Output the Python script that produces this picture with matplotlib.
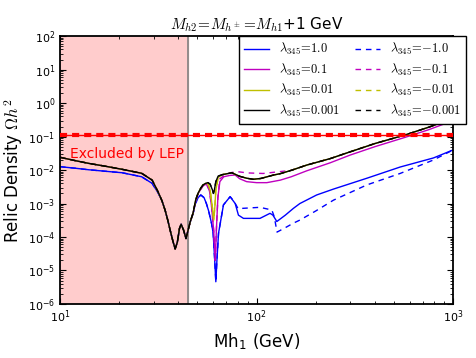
import matplotlib
matplotlib.use('Agg')
import matplotlib.pyplot as plt
import numpy as np
from matplotlib.ticker import LogLocator, NullFormatter

plt.rcParams['mathtext.fontset'] = 'cm'
plt.rcParams['font.family'] = 'DejaVu Sans'

# low mass part, shared by the small couplings
m_low = [10, 12, 14, 17, 20.7, 26, 29.4, 31.5, 33, 34.2, 35.3, 36.3, 37.5, 38.5,
         39.5, 40.5, 41.3, 42.5, 43.7, 45.9]
om_low_small = [0.024, 0.019, 0.0158, 0.013, 0.0105, 0.0080, 0.0050, 0.00224, 0.0012,
                6.4e-4, 3.2e-4, 1.6e-4, 7.5e-5, 4.4e-5, 7e-5, 1.8e-4, 2.4e-4, 1.6e-4,
                9e-5, 2.8e-4]
om_low_large = [0.0126, 0.0113, 0.0102, 0.0092, 0.0083, 0.0063, 0.0040, 0.0021, 0.0012,
                6.4e-4, 3.2e-4, 1.6e-4, 7.5e-5, 4.4e-5, 7e-5, 1.8e-4, 2.4e-4, 1.6e-4,
                9e-5, 2.8e-4]

# high mass part, shared tail
m_tail = [132, 150, 180, 237, 299, 400, 570, 750, 1000]
om_tail_small = [7.8e-3, 9.8e-3, 0.0141, 0.022, 0.035, 0.062, 0.112, 0.19, 0.35]
om_tail_01 = [5.0e-3, 6.3e-3, 9.5e-3, 0.0165, 0.028, 0.050, 0.095, 0.16, 0.30]

# resonance region per coupling
m_mid_0001 = [47.5, 49, 50.4, 52, 53.4, 55, 56.5, 58, 59.5, 60.3, 61, 62, 63.7, 67, 71,
              74.8, 78, 82, 89, 96, 105, 122]
om_mid_0001 = [5.2e-4, 1.3e-3, 2.05e-3, 2.9e-3, 3.6e-3, 4.0e-3, 4.2e-3, 3.8e-3, 2.6e-3,
               2.0e-3, 2.6e-3, 4.5e-3, 6.6e-3, 7.3e-3, 7.8e-3, 8.3e-3, 7.4e-3, 6.5e-3,
               5.7e-3, 5.3e-3, 5.6e-3, 7.1e-3]

m_mid_001 = [47.5, 49, 50.4, 52, 53.4, 55, 56.5, 58, 59.5, 60.5, 61.3, 62, 63.7, 67, 71,
             74.8, 78, 82, 89, 96, 105, 122]
om_mid_001 = [5.2e-4, 1.3e-3, 2.05e-3, 2.9e-3, 3.6e-3, 4.0e-3, 4.0e-3, 2.5e-3, 8e-4,
              3.2e-4, 8e-4, 2.5e-3, 6.0e-3, 7.3e-3, 7.8e-3, 8.3e-3, 7.4e-3, 6.5e-3,
              5.7e-3, 5.3e-3, 5.6e-3, 7.1e-3]

m_mid_01 = [47.5, 49, 50.4, 53.4, 55.5, 57.5, 59, 60.5, 61.6, 62.5, 63.5, 65, 68, 73,
            77.8, 82, 89, 100, 112.7]
om_mid_01 = [5.2e-4, 1.2e-3, 2.0e-3, 3.4e-3, 3.8e-3, 2.5e-3, 8e-4, 1.5e-4, 2.0e-5, 2e-4,
             1.5e-3, 4.5e-3, 6.3e-3, 6.9e-3, 7.1e-3, 5.5e-3, 4.5e-3, 4.2e-3, 4.2e-3]
m_mid_m01 = [47.5, 49, 50.4, 53.4, 55.5, 57.5, 59, 60.5, 61.6, 62.5, 63.5, 65, 70, 75,
             80.5, 90, 108]
om_mid_m01 = [5.2e-4, 1.2e-3, 2.0e-3, 3.4e-3, 3.8e-3, 2.5e-3, 8e-4, 1.5e-4, 2.0e-5, 2e-4,
              1.5e-3, 5.5e-3, 7.5e-3, 8.5e-3, 8.9e-3, 8.2e-3, 7.9e-3]

m_mid_1 = [47.5, 48.8, 50.4, 52, 54, 55.5, 57, 59, 60.1, 61.2, 62.0, 62.8, 64.0, 67.8,
           73.3, 77.8, 80.8, 85.7, 104, 117, 121, 126.7, 140, 154, 166, 202, 246, 364,
           537, 794, 1000]
om_mid_1 = [5.0e-4, 1.0e-3, 1.5e-3, 1.8e-3, 1.5e-3, 1.0e-3, 6e-4, 2.5e-4, 1.3e-4, 2e-5,
            4.6e-6, 2e-5, 1.3e-4, 9.1e-4, 1.6e-3, 1.0e-3, 4.5e-4, 3.6e-4, 3.6e-4, 5.1e-4,
            4.5e-4, 2.9e-4, 4.5e-4, 7.2e-4, 1.0e-3, 1.8e-3, 2.7e-3, 5.7e-3, 0.0123,
            0.023, 0.040]
m_mid_m1 = [47.5, 48.8, 50.4, 52, 54, 55.5, 57, 59, 60.1, 61.2, 62.0, 62.8, 64.0, 67.8,
            73.3, 76.5, 80.5, 85.7, 104, 119.5, 123, 127, 140, 154, 166, 200, 246, 364,
            537, 794, 1000]
om_mid_m1 = [5.0e-4, 1.0e-3, 1.5e-3, 1.8e-3, 1.5e-3, 1.0e-3, 6e-4, 2.5e-4, 1.3e-4, 2e-5,
             4.6e-6, 2e-5, 1.3e-4, 9.1e-4, 1.6e-3, 1.2e-3, 7e-4, 7.2e-4, 7.7e-4, 6.4e-4,
             4e-4, 1.4e-4, 1.9e-4, 2.6e-4, 3.2e-4, 6e-4, 1.26e-3, 3.6e-3, 7.9e-3,
             0.020, 0.040]

omega_obs = 0.112
lep_limit = 45.0

# assemble the eight curves
def curve(m_a, o_a, m_b, o_b, m_c=None, o_c=None):
    m = list(m_a) + list(m_b) + (list(m_c) if m_c else [])
    o = list(o_a) + list(o_b) + (list(o_c) if o_c else [])
    return np.array(m), np.array(o)

solid = [
    ('b', r'$\lambda_{345}\!=\!1.0$', 2.2, curve(m_low, om_low_large, m_mid_1, om_mid_1)),
    ('m', r'$\lambda_{345}\!=\!0.1$', 2.3, curve(m_low, om_low_small, m_mid_01, om_mid_01, m_tail, om_tail_01)),
    ('y', r'$\lambda_{345}\!=\!0.01$', 2.4, curve(m_low, om_low_small, m_mid_001, om_mid_001, m_tail, om_tail_small)),
    ('k', r'$\lambda_{345}\!=\!0.001$', 3.0, curve(m_low, om_low_small, m_mid_0001, om_mid_0001, m_tail, om_tail_small)),
]
dashed = [
    ('b', r'$\lambda_{345}\!=\!{-}1.0$', 2.25, curve(m_low, om_low_large, m_mid_m1, om_mid_m1)),
    ('m', r'$\lambda_{345}\!=\!{-}0.1$', 2.35, curve(m_low, om_low_small, m_mid_m01, om_mid_m01, m_tail[1:], om_tail_small[1:])),
    ('y', r'$\lambda_{345}\!=\!{-}0.01$', 2.45, curve(m_low, om_low_small, m_mid_001, om_mid_001, m_tail, om_tail_small)),
    ('k', r'$\lambda_{345}\!=\!{-}0.001$', 2.5, curve(m_low, om_low_small, m_mid_0001, om_mid_0001, m_tail, om_tail_small)),
]

fig = plt.figure(figsize=(4.77, 3.58), dpi=100)
ax = fig.add_axes([0.126, 0.151, 0.824, 0.748])

ax.axvspan(10, lep_limit, color='#ffcccc', zorder=0)
ax.axvline(lep_limit, color='gray', lw=1.2, zorder=1)

for c, lab, z, (m, o) in solid:
    ax.plot(m, o, color=c, lw=1.0, label=lab, zorder=z)
for c, lab, z, (m, o) in dashed:
    ax.plot(m, o, color=c, lw=1.0, ls=(0, (4, 3.5)), label=lab, zorder=z)

ax.plot([10, 1000], [omega_obs, omega_obs], color='r', lw=1.0, zorder=4)
ax.plot([10, 1000], [omega_obs, omega_obs], color='r', lw=3, ls=(0, (1.7, 1.2)), zorder=4)

ax.text(11.2, 0.03, 'Excluded by LEP', color='r', fontsize=10, va='center')

ax.set_xscale('log')
ax.set_yscale('log')
ax.set_xlim(10, 1000)
ax.set_ylim(1e-6, 1e2)
ax.set_yticks([10.0**k for k in range(-6, 3)])
ax.set_xticks([10, 100, 1000])
ax.xaxis.set_minor_locator(LogLocator(base=10, subs=np.arange(2, 10)))
ax.yaxis.set_minor_locator(LogLocator(base=10, subs=np.arange(2, 10), numticks=20))
ax.yaxis.set_minor_formatter(NullFormatter())
ax.xaxis.set_minor_formatter(NullFormatter())
ax.tick_params(which='both', direction='in', top=True, right=True, labelsize=8)
ax.tick_params(which='major', length=4, width=0.8)
ax.tick_params(which='minor', length=2, width=0.6)
for s in ax.spines.values():
    s.set_linewidth(1.3)

ax.set_xlabel(r'Mh$_\mathregular{1}$ (GeV)', fontsize=12, labelpad=4)
ax.set_ylabel(r'Relic Density $\Omega h^2$', fontsize=12, labelpad=2)
ax.set_title(r'$M_{h2}\!=\!M_{h^\pm}\!=\!M_{h1}$+1 GeV', fontsize=11, pad=5)

ax.legend(loc='upper left', bbox_to_anchor=(0.501, 0.899), bbox_transform=fig.transFigure,
          ncol=2, fontsize=9, fancybox=False, framealpha=1, edgecolor='k',
          borderaxespad=0, handlelength=2.0, columnspacing=1.2, labelspacing=0.35,
          borderpad=0.4)

fig.savefig('out.png', dpi=100)
